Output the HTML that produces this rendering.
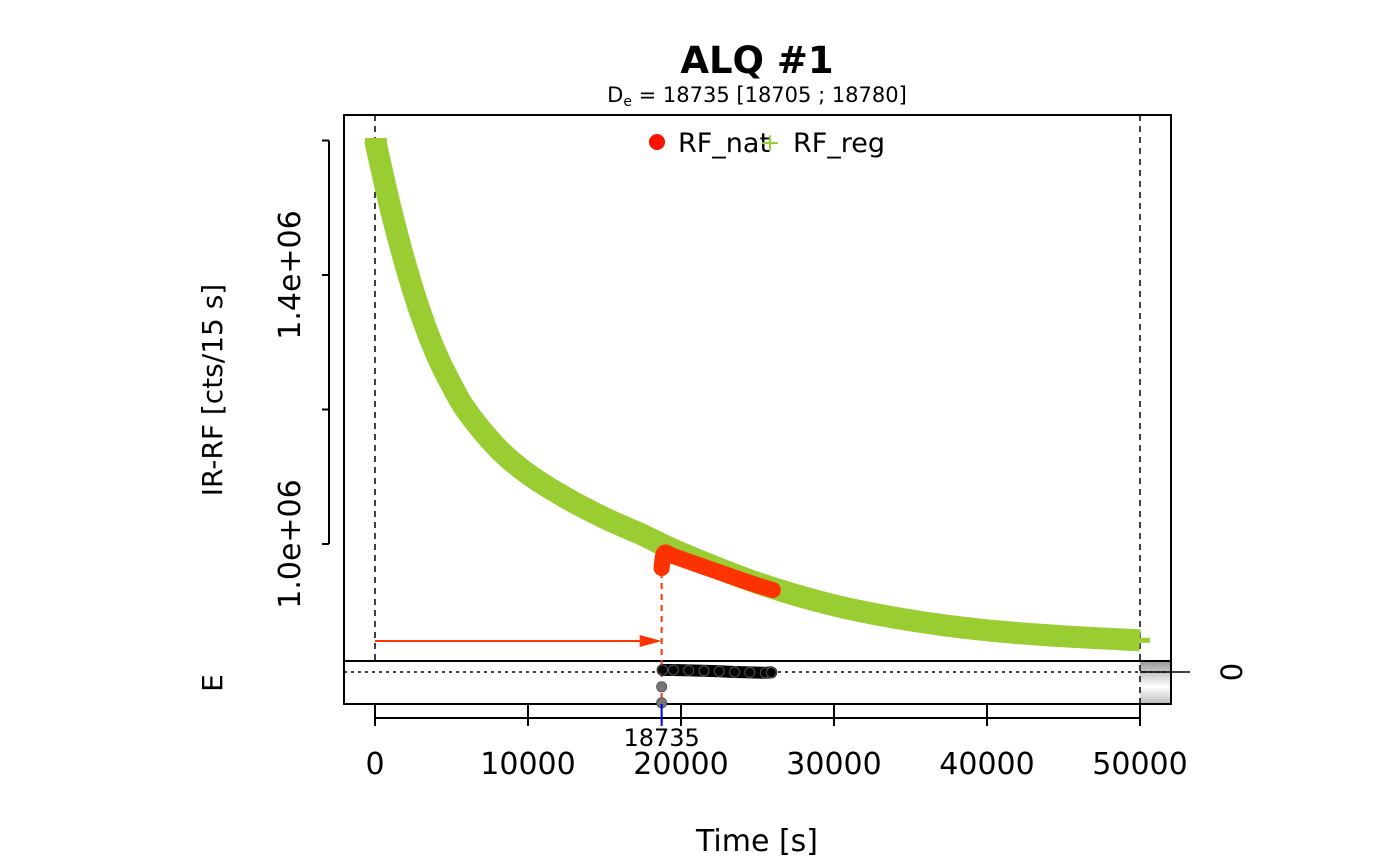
<!DOCTYPE html>
<html><head><meta charset="utf-8"><style>body{margin:0;background:#fff}svg{display:block}text{font-family:"DejaVu Sans","Liberation Sans",sans-serif}</style></head>
<body>
<svg id="c" width="1400" height="866">
<defs><linearGradient id="g" x1="0" y1="0" x2="0" y2="1"><stop offset="0" stop-color="#999"/><stop offset="0.6" stop-color="#fff"/><stop offset="1" stop-color="#bbb"/></linearGradient></defs>
<text x="757" y="102" font-size="21" text-anchor="middle">D<tspan font-size="14" dy="4">e</tspan><tspan dy="-4"> = 18735 [18705 ; 18780]</tspan></text>
<text x="757" y="73" font-size="37" font-weight="bold" text-anchor="middle">ALQ #1</text>
<g id="plot"></g>
</svg>
<script>
const regTimes=[0,1000,2000,3000,4000,5000,6000,8000,10000,12500,15000,17500,20000,25000,30000,35000,40000,45000,50000];
const regValues=[1600700,1501100,1414800,1341900,1282900,1236500,1197800,1142900,1104100,1068300,1038700,1013400,986600,942000,908800,886500,871600,862700,856800];
const natTimes=[18735,18900,19500,21000,22500,24000,25000,26000];
const natValues=[964300,986600,982000,970000,958000,946000,938500,931600];
const resTimes=[18735,18735,18800,19500,20500,21500,22500,23500,24500,25500,25900];
const resValues=[-0.37,-0.77,0.05,0.05,0.04,0.03,0.02,0.0,-0.01,-0.02,-0.01];
const xTicks=[0,10000,20000,30000,40000,50000];
const yTicks=[1000000,1200000,1400000,1600000];
const yLabels={1000000:"1.0e+06",1400000:"1.4e+06"};
const X=t=>375+t*765/50000;
const Y=v=>544-(v-1000000)*672.5/1000000;
const RY=r=>672-r*40;
const NS="http://www.w3.org/2000/svg";
const P=document.getElementById('plot');
function mk(tag,a,txt){const e=document.createElementNS(NS,tag);for(const k in a)e.setAttribute(k,a[k]);if(txt!==undefined)e.textContent=txt;P.appendChild(e);return e;}
function smooth(p){let d=`M${p[0][0]},${p[0][1]}`;for(let i=0;i<p.length-1;i++){const a=p[Math.max(i-1,0)],b=p[i],c=p[i+1],e=p[Math.min(i+2,p.length-1)];d+=` C${b[0]+(c[0]-a[0])/6},${b[1]+(c[1]-a[1])/6} ${c[0]-(e[0]-b[0])/6},${c[1]-(e[1]-b[1])/6} ${c[0]},${c[1]}`;}return d;}
let e=mk('rect',{x:1140,y:661,width:31,height:43,fill:'url(#g)'});


e=mk('rect',{x:344,y:115,width:827,height:546,fill:'none',stroke:'#000','stroke-width':2});


e=mk('rect',{x:344,y:661,width:827,height:43,fill:'none',stroke:'#000','stroke-width':2});


e=mk('line',{x1:344,x2:1171,y1:672,y2:672,stroke:'#000','stroke-width':1.5,'stroke-dasharray':'3,4'});


e=mk('line',{x1:1140,x2:1190,y1:672,y2:672,stroke:'#000','stroke-width':1.5});


e=mk('text',{x:1232,y:672,'font-size':29,'text-anchor':'middle',transform:'rotate(-90 1232 672)',dy:10},'0');


[0,50000].forEach(t=>{const l=mk('line',{x1:X(t),x2:X(t),y1:115,y2:t?718:661,stroke:'#000','stroke-width':1.5,'stroke-dasharray':'6,5'});

});
let pp=regTimes.map((t,i)=>[X(t),Y(regValues[i])]);
e=mk('path',{d:smooth(pp),fill:'none',stroke:'#9acd32','stroke-width':22});


e=mk('line',{x1:X(50000),x2:X(50000)+10,y1:Y(regValues[regValues.length-1]),y2:Y(regValues[regValues.length-1]),stroke:'#9acd32','stroke-width':5});


e=mk('line',{x1:X(0)-10,x2:X(0)+12,y1:Y(regValues[0]),y2:Y(regValues[0]),stroke:'#9acd32','stroke-width':4});


pp=natTimes.map((t,i)=>[X(t),Y(natValues[i])]);
e=mk('path',{d:smooth(pp),fill:'none',stroke:'#ff3300','stroke-width':16,'stroke-linecap':'round','stroke-linejoin':'round'});


natTimes.forEach((t,i)=>{const c=mk('circle',{cx:X(t),cy:Y(natValues[i]),r:8,fill:'#ff3300'});

});
e=mk('line',{x1:X(0),x2:X(18735)-20,y1:641,y2:641,stroke:'#ff3300','stroke-width':2});


e=mk('polygon',{points:`${X(18735)},641 ${X(18735)-22},635 ${X(18735)-22},647`,fill:'#ff3300'});


e=mk('line',{x1:X(18735),x2:X(18735),y1:572,y2:704,stroke:'#ff3300','stroke-width':2,'stroke-dasharray':'6,5'});


pp=resTimes.slice(2).map((t,i)=>X(t)+','+RY(resValues[i+2])).join(' ');
e=mk('polyline',{points:pp,fill:'none',stroke:'#000','stroke-width':12,'stroke-linecap':'round'});


resTimes.forEach((t,i)=>{const c=mk('circle',{cx:X(t),cy:RY(resValues[i]),r:5,fill:i<2?'#777':'#000',stroke:'#555'});

});
e=mk('line',{x1:X(0),x2:X(50000),y1:718,y2:718,stroke:'#000','stroke-width':2});


xTicks.forEach(t=>{const l=mk('line',{x1:X(t),x2:X(t),y1:704,y2:726,stroke:'#000','stroke-width':2});


const tx=mk('text',{x:X(t),y:774,'font-size':30,'text-anchor':'middle'},String(t));

});
e=mk('line',{x1:X(18735),x2:X(18735),y1:704,y2:726,stroke:'#0000ff','stroke-width':2});


e=mk('text',{x:X(18735),y:746,'font-size':24,'text-anchor':'middle'},'18735');


e=mk('line',{x1:329,x2:329,y1:Y(1600000),y2:Y(1000000),stroke:'#000','stroke-width':2});


yTicks.forEach(v=>{const l=mk('line',{x1:322,x2:329,y1:Y(v),y2:Y(v),stroke:'#000','stroke-width':2});


if(yLabels[v]){const tx=mk('text',{x:300,y:Y(v),'font-size':30,'text-anchor':'middle',transform:`rotate(-90 300 ${Y(v)})`},yLabels[v]);

}});
e=mk('text',{x:222,y:390,'font-size':28,'text-anchor':'middle',transform:'rotate(-90 222 390)'},'IR-RF [cts/15 s]');


e=mk('text',{x:222,y:683,'font-size':28,'text-anchor':'middle',transform:'rotate(-90 222 683)'},'E');


e=mk('text',{x:757,y:851,'font-size':30,'text-anchor':'middle'},'Time [s]');


e=mk('circle',{cx:657,cy:142,r:8,fill:'#ff1100'});


e=mk('text',{x:678,y:152,'font-size':27},'RF_nat');


e=mk('text',{x:770,y:151,'font-size':25,'text-anchor':'middle',fill:'#9acd32'},'+');


e=mk('text',{x:793,y:152,'font-size':27},'RF_reg');


</script>
</body></html>
